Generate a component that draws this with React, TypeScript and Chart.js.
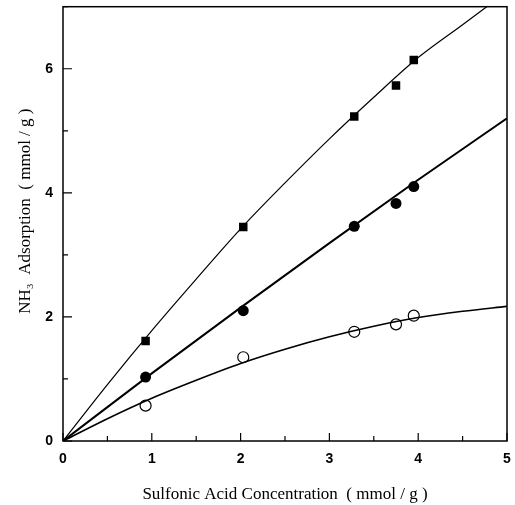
import React, { useEffect, useRef } from "react";
import { Chart, registerables } from "chart.js";

Chart.register(...registerables);

// Measured points (sulfonic acid conc. mmol/g)
const xPoints = [0.93, 2.03, 3.28, 3.75, 3.95];
const squareY = [1.61, 3.45, 5.23, 5.73, 6.14];
const filledCircleY = [1.03, 2.1, 3.46, 3.83, 4.1];
const openCircleY = [0.57, 1.35, 1.76, 1.88, 2.02];

// Fitted curves
const squareCurveX = [0, 0.5, 1, 1.5, 2, 2.5, 3, 3.5, 4, 4.5, 4.8];
const squareCurveY = [0, 0.91, 1.78, 2.61, 3.42, 4.16, 4.87, 5.54, 6.18, 6.71, 7.03];
const filledCurveX = [0, 1, 2, 3, 4, 5];
const filledCurveY = [0, 1.09, 2.15, 3.19, 4.21, 5.2];
const openCurveX = [0, 0.5, 1, 1.5, 2, 2.5, 3, 3.5, 4, 4.5, 5];
const openCurveY = [0, 0.36, 0.69, 0.98, 1.25, 1.48, 1.68, 1.85, 1.99, 2.09, 2.17];

const xTicks = [0, 1, 2, 3, 4, 5];
const yTicks = [0, 2, 4, 6];

const toXY = (xs: number[], ys: number[]) => xs.map((x, i) => ({ x, y: ys[i] }));

const framePlugin = {
  id: "frame",
  afterDatasetsDraw(chart: any) {
    const { ctx, chartArea: a, scales } = chart;
    const xs = scales.x;
    const ys = scales.y;
    ctx.save();
    ctx.strokeStyle = "#000";
    ctx.lineWidth = 1.5;
    ctx.strokeRect(a.left, a.top, a.right - a.left, a.bottom - a.top);
    ctx.lineWidth = 1.2;
    ctx.beginPath();
    for (let v = 0; v <= 5.001; v += 0.5) {
      const px = xs.getPixelForValue(v);
      const major = Math.abs(v - Math.round(v)) < 1e-6;
      const len = major ? 8 : 5;
      ctx.moveTo(px, a.bottom);
      ctx.lineTo(px, a.bottom - len);
    }
    for (let v = 0; v <= 7.001; v += 1) {
      const py = ys.getPixelForValue(v);
      const major = v % 2 === 0;
      const len = major ? 9 : 5;
      ctx.moveTo(a.left, py);
      ctx.lineTo(a.left + len, py);
    }
    ctx.stroke();
    ctx.restore();
  },
};

export default function App() {
  const ref = useRef<HTMLCanvasElement | null>(null);
  useEffect(() => {
    if (!ref.current) return;
    const chart = new Chart(ref.current, {
      type: "scatter",
      data: {
        datasets: [
          {
            label: "square fit",
            data: toXY(squareCurveX, squareCurveY),
            showLine: true,
            borderColor: "#000",
            borderWidth: 1.2,
            pointRadius: 0,
            cubicInterpolationMode: "monotone",
          },
          {
            label: "filled fit",
            data: toXY(filledCurveX, filledCurveY),
            showLine: true,
            borderColor: "#000",
            borderWidth: 2,
            pointRadius: 0,
            cubicInterpolationMode: "monotone",
          },
          {
            label: "open fit",
            data: toXY(openCurveX, openCurveY),
            showLine: true,
            borderColor: "#000",
            borderWidth: 1.6,
            pointRadius: 0,
            cubicInterpolationMode: "monotone",
          },
          {
            label: "squares",
            data: toXY(xPoints, squareY),
            pointStyle: "rect",
            pointRadius: 6,
            backgroundColor: "#000",
            borderColor: "#000",
            borderWidth: 0,
          },
          {
            label: "filled circles",
            data: toXY(xPoints, filledCircleY),
            pointStyle: "circle",
            pointRadius: 5.5,
            backgroundColor: "#000",
            borderColor: "#000",
            borderWidth: 0,
          },
          {
            label: "open circles",
            data: toXY(xPoints, openCircleY),
            pointStyle: "circle",
            pointRadius: 5.5,
            backgroundColor: "#fff",
            borderColor: "#000",
            borderWidth: 1.2,
          },
        ],
      },
      options: {
        animation: false,
        responsive: false,
        maintainAspectRatio: false,
        layout: { padding: { top: 5, right: 8, left: 0, bottom: 0 } },
        plugins: { legend: { display: false }, tooltip: { enabled: false } },
        scales: {
          x: {
            type: "linear",
            min: 0,
            max: 5,
            afterBuildTicks: (s: any) => {
              s.ticks = xTicks.map((v) => ({ value: v }));
            },
            afterFit: (s: any) => {
              s.height = 64;
              s.paddingRight = 0;
              s.paddingLeft = 0;
            },
            grid: { display: false, drawTicks: false },
            border: { display: false },
            ticks: {
              padding: 10,
              color: "#000",
              font: { family: "Liberation Sans", size: 14, weight: "bold" },
            },
            title: {
              display: true,
              text: "Sulfonic Acid Concentration  ( mmol / g )",
              color: "#000",
              font: { family: "Liberation Serif", size: 17 },
              padding: { top: 2, bottom: 0 },
            },
          },
          y: {
            type: "linear",
            min: 0,
            max: 7,
            afterBuildTicks: (s: any) => {
              s.ticks = yTicks.map((v) => ({ value: v }));
            },
            afterFit: (s: any) => {
              s.width = 63;
              s.paddingTop = 0;
              s.paddingBottom = 0;
            },
            grid: { display: false, drawTicks: false },
            border: { display: false },
            ticks: {
              padding: 10,
              color: "#000",
              font: { family: "Liberation Sans", size: 14, weight: "bold" },
            },
            title: {
              display: true,
              text: "      NH₃  Adsorption  ( mmol / g )",
              color: "#000",
              font: { family: "Liberation Serif", size: 17 },
              padding: { top: 15, bottom: 0 },
            },
          },
        },
      },
      plugins: [framePlugin],
    } as any);
    return () => chart.destroy();
  }, []);
  return (
    <div style={{ position: "fixed", left: 0, top: 0, width: 515, height: 505, background: "#fff" }}>
      <canvas ref={ref} width={515} height={505} style={{ width: 515, height: 505 }} />
    </div>
  );
}
